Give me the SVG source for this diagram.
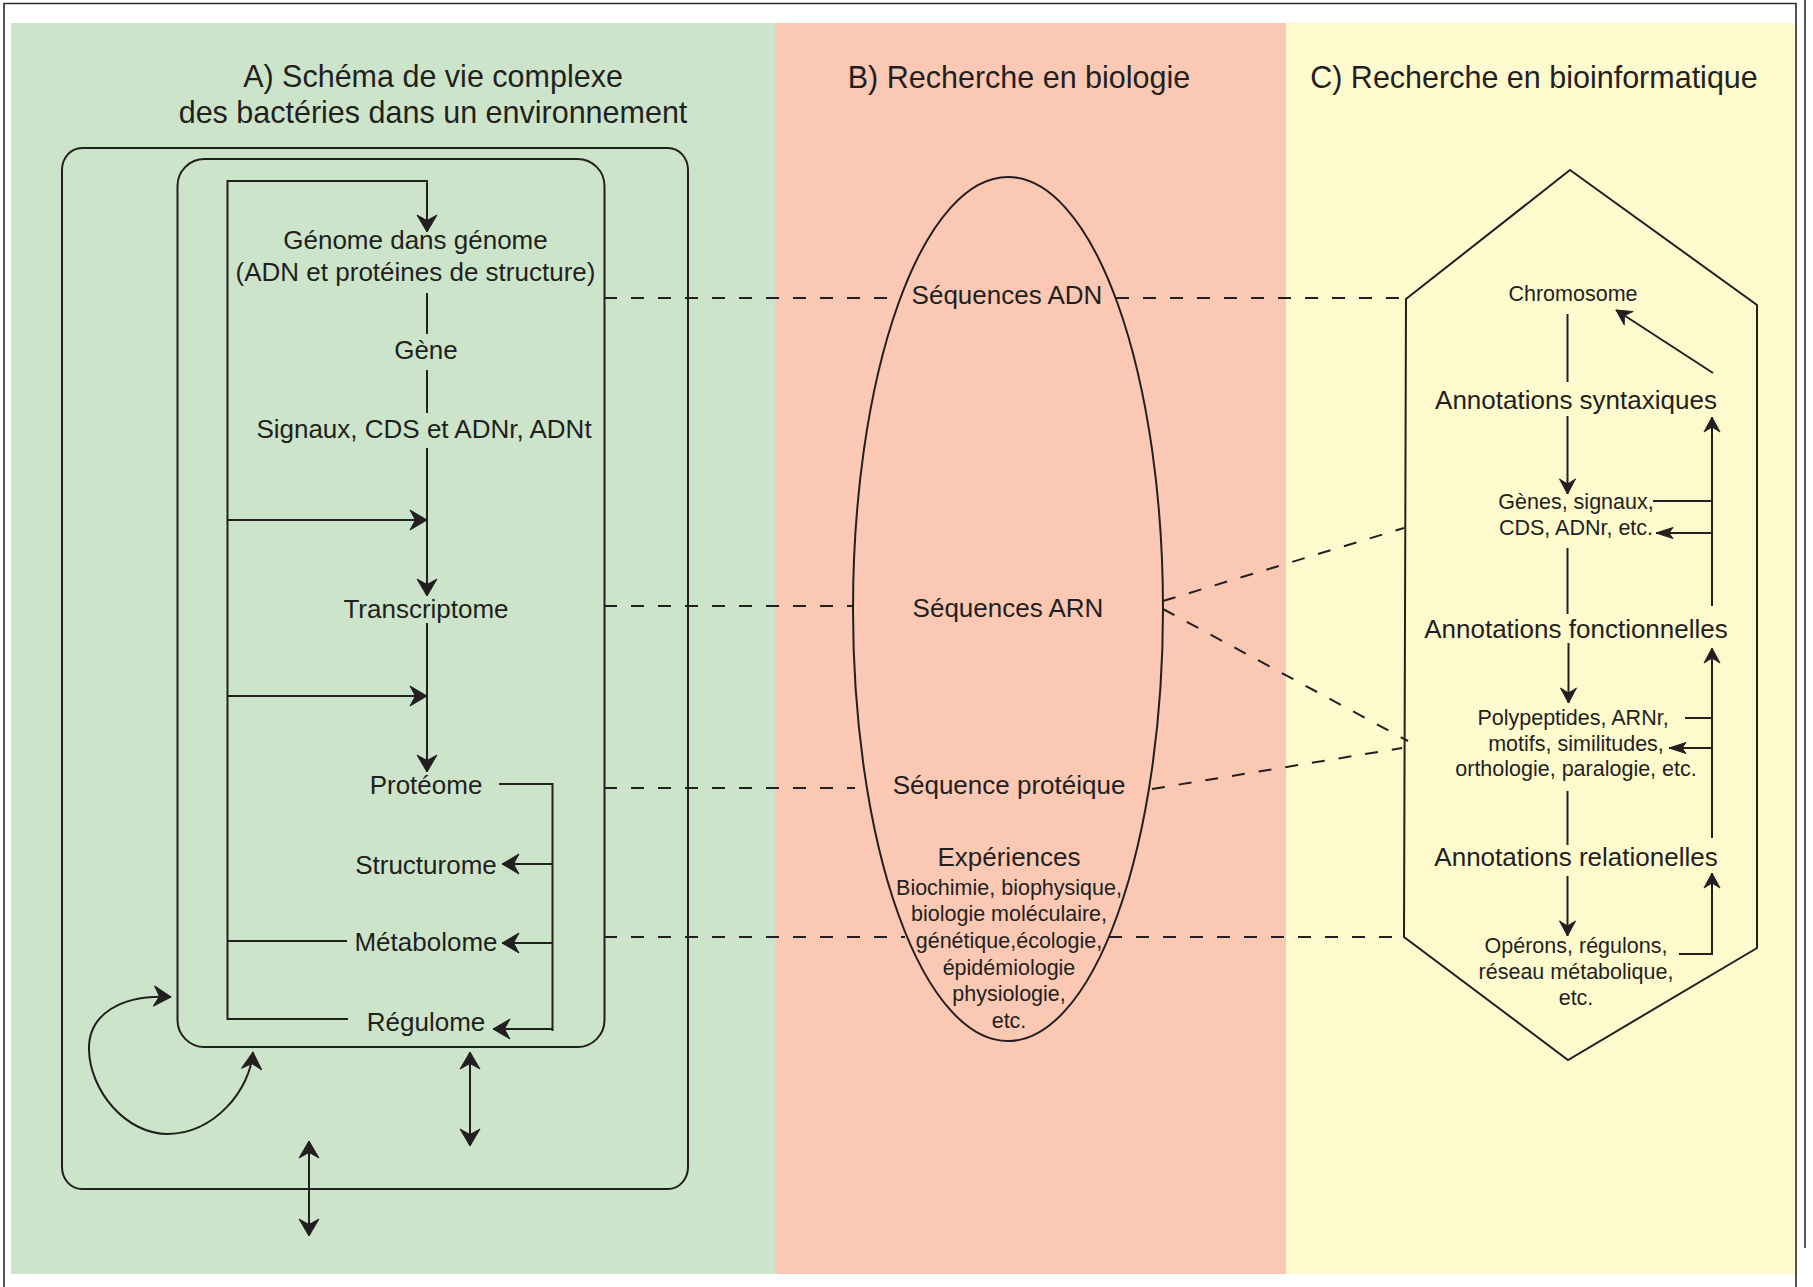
<svg xmlns="http://www.w3.org/2000/svg" width="1813" height="1287" viewBox="0 0 1813 1287">
  <defs>
    <style>
      .ln{fill:none;stroke:#231f20;stroke-width:2}
      .ds{fill:none;stroke:#231f20;stroke-width:2;stroke-dasharray:13 14}
      .fr{fill:none;stroke:#2b2b2b;stroke-width:1.6}
      .hd{fill:#231f20;stroke:#231f20;stroke-width:1;stroke-linejoin:round}
      text{font-family:"Liberation Sans",Arial,Helvetica,sans-serif;fill:#231f20;text-anchor:middle}
      .t{font-size:30.5px}
      .m{font-size:26px}
      .s{font-size:21.5px}
      .aA{marker-end:url(#hA)}
      .aC{marker-end:url(#hC)}
      .aN{marker-end:url(#hN)}
    </style>
    <!-- barbed arrowheads, tip at the line end -->
    <marker id="hA" viewBox="-19 -12 20 24" refX="0" refY="0" markerWidth="20" markerHeight="24" markerUnits="userSpaceOnUse" orient="auto-start-reverse">
      <path class="hd" d="M0,0 L-17,-10 L-11.5,0 L-17,10 Z"/>
    </marker>
    <marker id="hC" viewBox="-17 -10 18 20" refX="0" refY="0" markerWidth="18" markerHeight="20" markerUnits="userSpaceOnUse" orient="auto-start-reverse">
      <path class="hd" d="M0,0 L-15,-8 L-10,0 L-15,8 Z"/>
    </marker>
    <marker id="hN" viewBox="-19 -8 20 16" refX="0" refY="0" markerWidth="20" markerHeight="16" markerUnits="userSpaceOnUse" orient="auto-start-reverse">
      <path class="hd" d="M0,0 L-17,-5.5 L-13,0 L-17,5.5 Z"/>
    </marker>
  </defs>

  <!-- page and frame -->
  <rect x="0" y="0" width="1813" height="1287" fill="#ffffff"/>
  <g id="panels">
    <rect x="11" y="23" width="764" height="1251" fill="#cce5ca"/>
    <rect x="775" y="23" width="511" height="1251" fill="#fbc8b3"/>
    <rect x="1286" y="23" width="510" height="1251" fill="#fffacd"/>
  </g>
  <g id="frame">
    <path class="fr" d="M4 1287 V3.5 H1796 V1287"/>
    <path class="fr" d="M1805 0 V1248"/>
  </g>

  <!-- panel titles -->
  <g id="title-a">
    <text class="t" x="433" y="87">A) Schéma de vie complexe</text>
    <text class="t" x="433" y="123">des bactéries dans un environnement</text>
  </g>
  <g id="title-b">
    <text class="t" x="1019" y="88">B) Recherche en biologie</text>
  </g>
  <g id="title-c">
    <text class="t" x="1534" y="88">C) Recherche en bioinformatique</text>
  </g>

  <!-- A: environment and cell -->
  <g id="environment">
    <rect class="ln" x="62" y="148" width="626" height="1041" rx="20" ry="22"/>
  </g>
  <g id="cell">
    <rect class="ln" x="177.5" y="159" width="427" height="888" rx="27" ry="27"/>
  </g>

  <g id="genome"><text class="m" x="415.5" y="249">Génome dans génome</text><text class="m" x="415.5" y="281">(ADN et protéines de structure)</text></g>
  <g id="gene"><text class="m" x="426" y="359">Gène</text></g>
  <g id="signaux"><text class="m" x="424" y="438">Signaux, CDS et ADNr, ADNt</text></g>
  <g id="transcriptome"><text class="m" x="426" y="618">Transcriptome</text></g>
  <g id="proteome"><text class="m" x="426" y="794">Protéome</text></g>
  <g id="structurome"><text class="m" x="426" y="874">Structurome</text></g>
  <g id="metabolome"><text class="m" x="426" y="951">Métabolome</text></g>
  <g id="regulome"><text class="m" x="426" y="1031">Régulome</text></g>

  <!-- B: biology ellipse -->
  <g id="biologie">
    <ellipse class="ln" cx="1008" cy="609" rx="155" ry="432"/>
  </g>
  <g id="seq-adn"><text class="m" x="1007" y="304">Séquences ADN</text></g>
  <g id="seq-arn"><text class="m" x="1008" y="617">Séquences ARN</text></g>
  <g id="seq-prot"><text class="m" x="1009" y="794">Séquence protéique</text></g>
  <g id="experiences">
    <text class="m" x="1009" y="866">Expériences</text>
    <text class="s" x="1009" y="895">Biochimie, biophysique,</text>
    <text class="s" x="1009" y="921">biologie moléculaire,</text>
    <text class="s" x="1009" y="948">génétique,écologie,</text>
    <text class="s" x="1009" y="975">épidémiologie</text>
    <text class="s" x="1009" y="1001">physiologie,</text>
    <text class="s" x="1009" y="1028">etc.</text>
  </g>

  <!-- C: bioinformatics hexagon -->
  <g id="bioinformatique">
    <path class="ln" d="M1570 170 L1757 305 L1757 948 L1568 1060 L1404 937 L1406 299 Z"/>
  </g>
  <g id="chromosome"><text class="s" x="1573" y="301">Chromosome</text></g>
  <g id="annot-synt"><text class="m" x="1576" y="409">Annotations syntaxiques</text></g>
  <g id="genes"><text class="s" x="1576" y="509">Gènes, signaux,</text><text class="s" x="1576" y="535">CDS, ADNr, etc.</text></g>
  <g id="annot-fonc"><text class="m" x="1576" y="638">Annotations fonctionnelles</text></g>
  <g id="polypeptides">
    <text class="s" x="1573" y="725">Polypeptides, ARNr,</text>
    <text class="s" x="1576" y="751">motifs, similitudes,</text>
    <text class="s" x="1576" y="776">orthologie, paralogie, etc.</text>
  </g>
  <g id="annot-rel"><text class="m" x="1576" y="866">Annotations relationelles</text></g>
  <g id="operons">
    <text class="s" x="1576" y="953">Opérons, régulons,</text>
    <text class="s" x="1576" y="979">réseau métabolique,</text>
    <text class="s" x="1576" y="1005">etc.</text>
  </g>

  <g id="connectors">
    <!-- A: expression flow -->
    <path class="ln aA" d="M227.5 1020 V181 H427 V232"/>
    <path class="ln" d="M427 293 V334 M427 370 V413"/>
    <path class="ln aA" d="M427 448 V596"/>
    <path class="ln aA" d="M427 623 V772"/>
    <path class="ln aA" d="M227.5 520 H427"/>
    <path class="ln aA" d="M227.5 696 H427"/>
    <path class="ln" d="M227.5 941 H347 M227.5 1019 H348"/>
    <path class="ln" d="M499 784 H552.5 V1031"/>
    <path class="ln aA" d="M552.5 864 H502"/>
    <path class="ln aA" d="M552.5 943 H502"/>
    <path class="ln aA" d="M552.5 1029 H493"/>
    <!-- A: exchanges with the environment -->
    <path class="ln" marker-start="url(#hA)" marker-end="url(#hA)" d="M171 997 C120 994 88 1015 89 1050 C90 1090 125 1134 168 1134 C215 1133 250 1090 253 1052"/>
    <path class="ln" marker-start="url(#hA)" marker-end="url(#hA)" d="M470 1052 V1146"/>
    <path class="ln" marker-start="url(#hA)" marker-end="url(#hA)" d="M309 1141 V1236"/>

    <!-- dashed links between the three panels -->
    <path class="ds" d="M604 298 H900 M1116 298 H1406"/>
    <path class="ds" d="M604 606 H853"/>
    <path class="ds" d="M1163 601 L1404 528"/>
    <path class="ds" d="M1163 609 L1408 741"/>
    <path class="ds" d="M604 788 H855"/>
    <path class="ds" d="M1152 789 L1402 748"/>
    <path class="ds" d="M604 937 H905 M1109 937 H1404"/>

    <!-- C: annotation cycle -->
    <path class="ln" d="M1567.5 314 V382"/>
    <path class="ln aC" d="M1567.5 416 V494"/>
    <path class="ln aC" d="M1713 373 L1616 310"/>
    <path class="ln aC" d="M1712 606 V417"/>
    <path class="ln" d="M1653 501 H1712"/>
    <path class="ln aN" d="M1712 533 H1656"/>
    <path class="ln" d="M1567.5 548 V614"/>
    <path class="ln aC" d="M1568.5 643 V703"/>
    <path class="ln aC" d="M1712 838 V648"/>
    <path class="ln" d="M1685 718 H1712"/>
    <path class="ln aN" d="M1712 748 H1669"/>
    <path class="ln" d="M1567.5 791 V845"/>
    <path class="ln aC" d="M1567.5 876 V936"/>
    <path class="ln aC" d="M1679 954 H1712 V873"/>
  </g>
</svg>
